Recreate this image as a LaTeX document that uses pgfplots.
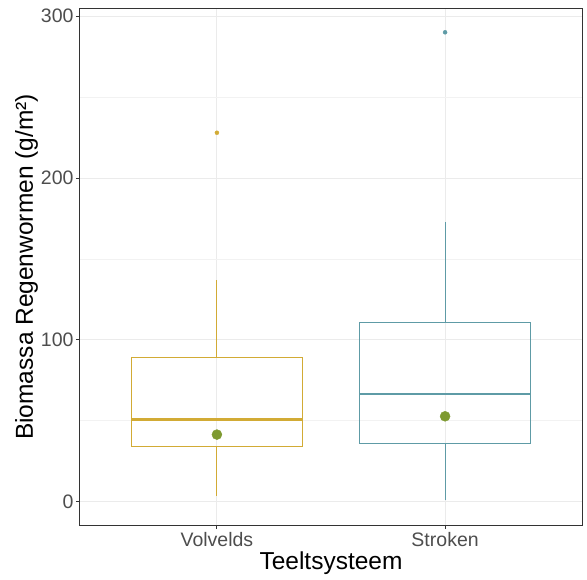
\documentclass[border=0pt]{standalone}
\usepackage{pgfplots}
\pgfplotsset{compat=1.18}
\usepackage{fontspec}
\setmainfont{Liberation Sans}
\definecolor{cgold}{HTML}{D2AB35}
\definecolor{cteal}{HTML}{5E9BA6}
\definecolor{cgreen}{HTML}{7E9A31}
\definecolor{grid92}{HTML}{EBEBEB}
\definecolor{grid95}{HTML}{F2F2F2}
\definecolor{gray20}{HTML}{333333}
\definecolor{gray30}{HTML}{4D4D4D}
\begin{document}
\begin{tikzpicture}
\begin{axis}[
  width=502pt, height=516pt, scale only axis,
  xmin=0.4, xmax=2.6, ymin=-14.5, ymax=304.5,
  xtick={1,2}, xticklabels={Volvelds,Stroken},
  ytick={0,100,200,300}, minor ytick={50,150,250},
  grid=both,
  major grid style={color=grid92, line width=1pt},
  minor grid style={color=grid95, line width=0.7pt},
  axis line style={gray20, line width=1pt},
  tick align=outside, tick pos=left,
  major tick length=4pt, minor tick length=0pt,
  tick style={gray20, line width=1pt},
  ticklabel style={font=\fontsize{19.5}{22}\selectfont, color=gray30},
  yticklabel style={xshift=1pt},
  /pgf/number format/assume math mode=true,
  xlabel={Teeltsysteem}, ylabel={Biomassa Regenwormen (g/m²)},
  label style={font=\fontsize{24.5}{28}\selectfont},
  xlabel style={yshift=2pt},
  ylabel style={yshift=-4pt},
]
% Volvelds: whiskers, box, median
\addplot[draw=cgold, line width=0.9pt, mark=none] coordinates {(1,89.1) (1,137)};
\addplot[draw=cgold, line width=0.9pt, mark=none] coordinates {(1,3.7) (1,34)};
\addplot[draw=cgold, line width=1.2pt, mark=none, line join=miter] coordinates {(0.625,34) (1.375,34) (1.375,89.1) (0.625,89.1)} -- cycle;
\addplot[draw=cgold, line width=2.4pt, mark=none] coordinates {(0.625,50.6) (1.375,50.6)};
% Stroken
\addplot[draw=cteal, line width=0.9pt, mark=none] coordinates {(2,110.9) (2,172.8)};
\addplot[draw=cteal, line width=0.9pt, mark=none] coordinates {(2,0.8) (2,36)};
\addplot[draw=cteal, line width=1.2pt, mark=none, line join=miter] coordinates {(1.625,36) (2.375,36) (2.375,110.9) (1.625,110.9)} -- cycle;
\addplot[draw=cteal, line width=2.4pt, mark=none] coordinates {(1.625,66.5) (2.375,66.5)};
% outliers
\addplot[only marks, mark=*, mark size=2pt, color=cgold] coordinates {(1,228)};
\addplot[only marks, mark=*, mark size=2pt, color=cteal] coordinates {(2,290.1)};
% means
\addplot[only marks, mark=*, mark size=5pt, color=cgreen] coordinates {(1,41.4) (2,52.7)};
\end{axis}
\pgfresetboundingbox
\path ([xshift=-80pt,yshift=-54pt]current axis.south west) rectangle ([xshift=5pt,yshift=9pt]current axis.north east);
\end{tikzpicture}
\end{document}
